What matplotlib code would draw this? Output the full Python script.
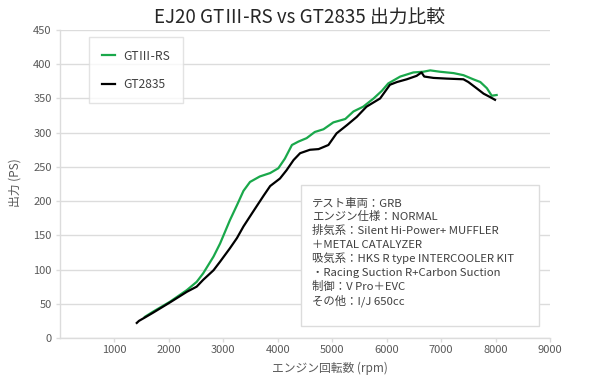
import matplotlib
matplotlib.use("Agg")
import matplotlib.pyplot as plt
from matplotlib.patches import Rectangle

plt.rcParams['font.family'] = ['Noto Sans CJK JP', 'DejaVu Sans']

title = "EJ20 GTⅢ-RS vs GT2835 出力比較"
xlabel = "エンジン回転数 (rpm)"
ylabel = "出力 (PS)"
series_names = ["GTⅢ-RS", "GT2835"]

green_rpm = [1560, 1710, 2020, 2330, 2510, 2630, 2820, 2940, 3120, 3250, 3370, 3490,
             3670, 3860, 4010, 4130, 4260, 4380, 4530, 4680, 4840, 5020, 5240, 5390,
             5570, 5760, 5910, 6030, 6250, 6490, 6670, 6800, 6980, 7230, 7410, 7590,
             7720, 7840, 7930, 8020]
green_ps = [31, 38.5, 53, 70, 82, 94.5, 119, 138, 172, 194, 215, 228,
            236, 241, 248, 262, 282, 287, 292, 301, 305, 315, 320, 331,
            338, 350, 361, 372, 382, 388, 389, 391, 389, 387, 384, 378,
            374, 365, 354, 355]

black_rpm = [1410, 1450, 1560, 1710, 2020, 2330, 2510, 2630, 2820, 2940, 3120, 3250,
             3370, 3550, 3740, 3860, 4040, 4160, 4290, 4410, 4590, 4750, 4930, 5080,
             5270, 5450, 5630, 5880, 6060, 6190, 6370, 6550, 6640, 6690, 6860, 7100,
             7410, 7500, 7650, 7780, 7900, 7990]
black_ps = [22, 25, 30, 37, 52, 67.5, 75, 85, 99, 111.5, 131, 146,
            163, 185, 208, 222, 233, 245, 260, 270, 275, 276, 282, 299,
            311, 323, 338, 350, 370, 374, 378, 383, 388, 382, 380, 379,
            378, 374, 365, 357, 352, 348]

x_ticks = [1000, 2000, 3000, 4000, 5000, 6000, 7000, 8000, 9000]
y_ticks = [0, 50, 100, 150, 200, 250, 300, 350, 400, 450]

info_lines = [
    "テスト車両：GRB",
    "エンジン仕様：NORMAL",
    "排気系：Silent Hi-Power+ MUFFLER",
    "＋METAL CATALYZER",
    "吸気系：HKS R type INTERCOOLER KIT",
    "・Racing Suction R+Carbon Suction",
    "制御：V Pro＋EVC",
    "その他：I/J 650cc",
]

W, H = 600, 377
fig = plt.figure(figsize=(6, 3.77), dpi=100)
ax = fig.add_axes([60 / W, 1 - 338 / H, 490 / W, 308 / H])

grid_c = '#dcdcdc'
tick_c = '#595959'

ax.plot(green_rpm, green_ps, color='#1aa84b', lw=1.6, label=series_names[0], zorder=3)
ax.plot(black_rpm, black_ps, color='#000000', lw=1.6, label=series_names[1], zorder=3)

ax.set_xlim(0, 9000)
ax.set_ylim(0, 450)
ax.set_xticks(x_ticks)
ax.set_yticks(y_ticks)
ax.yaxis.grid(True, color=grid_c, lw=1)
ax.set_axisbelow(True)
for s in ['top', 'right']:
    ax.spines[s].set_visible(False)
for s in ['left', 'bottom']:
    ax.spines[s].set_color(grid_c)
    ax.spines[s].set_linewidth(1)
ax.tick_params(axis='both', colors=grid_c, labelcolor=tick_c, labelsize=8, length=3, width=1)
ax.tick_params(axis='x', pad=2)
ax.tick_params(axis='y', pad=3)

fig.text(299 / W, 1 - 17 / H, title, ha='center', va='center', fontsize=13.5, color='#262626')
fig.text(330 / W, 1 - 368 / H, xlabel, ha='center', va='center', fontsize=8.5, color='#595959')
fig.text(15 / W, 1 - 183 / H, ylabel, ha='center', va='center', rotation=90, fontsize=8.5, color='#595959')

leg = ax.legend(loc='upper left', bbox_to_anchor=(89 / W, 1 - 37 / H),
                bbox_transform=fig.transFigure, fontsize=8.7, frameon=True,
                fancybox=False, edgecolor=grid_c, labelspacing=1.25,
                borderpad=1.05, handlelength=1.1, handletextpad=0.7,
                borderaxespad=0)
leg.get_frame().set_linewidth(1)
for t in leg.get_texts():
    t.set_color('#404040')

# info box
fig.patches.append(Rectangle((301 / W, 1 - 326 / H), 238 / W, 141 / H,
                             transform=fig.transFigure, facecolor='white',
                             edgecolor=grid_c, lw=1, zorder=5))
for i, line in enumerate(info_lines):
    fig.text(312 / W, 1 - (203 + i * 13.9) / H, line, ha='left', va='center',
             fontsize=8.2, color='#404040', zorder=6)

fig.savefig('out.png', dpi=100)
